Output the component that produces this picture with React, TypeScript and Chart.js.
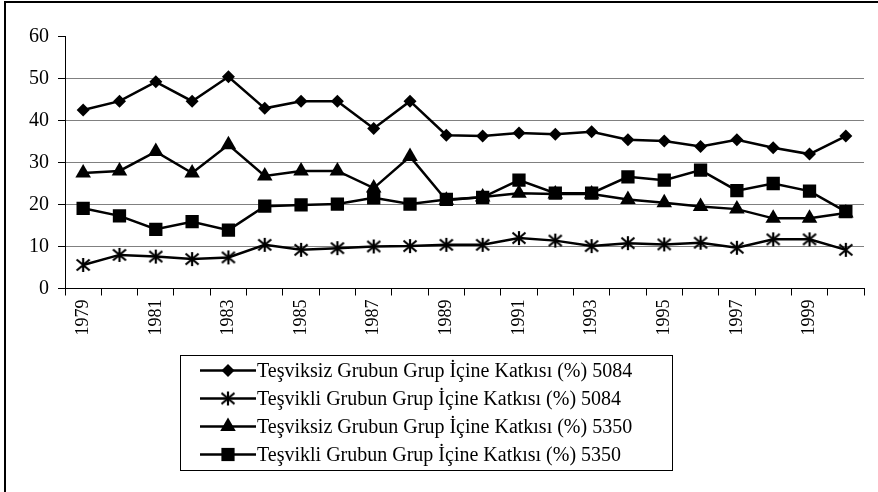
import React, { useEffect, useRef } from 'react';
import { Chart, registerables } from 'chart.js';

Chart.register(...registerables);

const years = ['1979', '1980', '1981', '1982', '1983', '1984', '1985', '1986', '1987', '1988', '1989', '1990', '1991', '1992', '1993', '1994', '1995', '1996', '1997', '1998', '1999', '2000'];

const tesviksiz5084 = [42.5, 44.6, 49.2, 44.6, 50.4, 42.9, 44.6, 44.6, 38.1, 44.6, 36.5, 36.3, 37.0, 36.7, 37.3, 35.4, 35.1, 33.8, 35.4, 33.5, 32.0, 36.3];
const tesvikli5084 = [5.6, 8.0, 7.6, 7.0, 7.4, 10.4, 9.2, 9.6, 10.0, 10.1, 10.4, 10.4, 12.0, 11.4, 10.1, 10.8, 10.5, 10.9, 9.7, 11.7, 11.7, 9.2];
const tesviksiz5350 = [27.5, 28.0, 32.6, 27.5, 34.2, 26.8, 28.0, 28.0, 23.9, 31.4, 21.0, 21.8, 22.7, 22.5, 22.5, 21.2, 20.4, 19.5, 18.9, 16.7, 16.7, 18.0];
const tesvikli5350 = [19.1, 17.3, 14.1, 15.9, 13.9, 19.6, 19.9, 20.1, 21.6, 20.1, 21.2, 21.7, 25.8, 22.7, 22.7, 26.6, 25.8, 28.2, 23.3, 25.0, 23.2, 18.3];

const seriesLabels = [
  'Teşviksiz Grubun Grup İçine Katkısı (%) 5084',
  'Teşvikli Grubun Grup İçine Katkısı (%) 5084',
  'Teşviksiz Grubun Grup İçine Katkısı (%) 5350',
  'Teşvikli Grubun Grup İçine Katkısı (%) 5350',
];

const yMin = 0;
const yMax = 60;
const yStep = 10;

const FONT = "'Liberation Serif', 'Times New Roman', serif";

function makeStar(): HTMLCanvasElement {
  const c = document.createElement('canvas');
  c.width = 16;
  c.height = 16;
  const g = c.getContext('2d')!;
  g.strokeStyle = '#000';
  g.lineWidth = 2.2;
  g.lineCap = 'butt';
  g.beginPath();
  g.moveTo(8, 1);
  g.lineTo(8, 15);
  g.moveTo(1.5, 2.5);
  g.lineTo(14.5, 13.5);
  g.moveTo(14.5, 2.5);
  g.lineTo(1.5, 13.5);
  g.stroke();
  return c;
}

function drawMarker(ctx: CanvasRenderingContext2D, kind: string, x: number, y: number, star: HTMLCanvasElement) {
  ctx.fillStyle = '#000';
  ctx.beginPath();
  if (kind === 'diamond') {
    const r = 6.5;
    ctx.moveTo(x, y - r);
    ctx.lineTo(x + r, y);
    ctx.lineTo(x, y + r);
    ctx.lineTo(x - r, y);
    ctx.closePath();
    ctx.fill();
  } else if (kind === 'star') {
    ctx.drawImage(star, x - star.width / 2, y - star.height / 2);
  } else if (kind === 'triangle') {
    const r = 9;
    ctx.moveTo(x, y - r);
    ctx.lineTo(x + r * Math.sin((2 * Math.PI) / 3), y - r * Math.cos((2 * Math.PI) / 3));
    ctx.lineTo(x + r * Math.sin((4 * Math.PI) / 3), y - r * Math.cos((4 * Math.PI) / 3));
    ctx.closePath();
    ctx.fill();
  } else {
    const s = 6.6;
    ctx.rect(x - s, y - s, 2 * s, 2 * s);
    ctx.fill();
  }
}

export default function App() {
  const ref = useRef<HTMLCanvasElement | null>(null);

  useEffect(() => {
    if (!ref.current) return;
    const star = makeStar();
    const kinds = ['diamond', 'star', 'triangle', 'square'];

    const boxLegend = {
      id: 'boxLegend',
      afterDraw(chart: any) {
        const ctx: CanvasRenderingContext2D = chart.ctx;
        ctx.save();
        ctx.strokeStyle = '#000';
        ctx.lineWidth = 2;
        ctx.beginPath();
        ctx.moveTo(5, 492);
        ctx.lineTo(5, 2);
        ctx.lineTo(878, 2);
        ctx.stroke();

        ctx.lineWidth = 1;
        ctx.strokeRect(180.5, 355.5, 492, 115);

        chart.data.datasets.forEach((ds: any, i: number) => {
          const y = 370.5 + i * 28;
          ctx.strokeStyle = '#000';
          ctx.lineWidth = 2.5;
          ctx.beginPath();
          ctx.moveTo(200, y);
          ctx.lineTo(256, y);
          ctx.stroke();
          drawMarker(ctx, kinds[i], 228, y, star);
          ctx.fillStyle = '#000';
          ctx.font = `20px ${FONT}`;
          ctx.textAlign = 'left';
          ctx.textBaseline = 'middle';
          ctx.fillText(ds.label, 257, y + 1);
        });
        ctx.restore();
      },
    };

    const common = {
      borderColor: '#000',
      backgroundColor: '#000',
      borderWidth: 2.5,
      pointBorderWidth: 0,
      pointBorderColor: '#000',
      pointBackgroundColor: '#000',
      tension: 0,
    };

    const chart = new Chart(ref.current, {
      type: 'line',
      data: {
        labels: years,
        datasets: [
          { ...common, label: seriesLabels[0], data: tesviksiz5084, pointStyle: 'rectRot', pointRadius: 6.5 },
          { ...common, label: seriesLabels[1], data: tesvikli5084, pointStyle: star as any, pointRadius: 7 },
          { ...common, label: seriesLabels[2], data: tesviksiz5350, pointStyle: 'triangle', pointRadius: 9 },
          { ...common, label: seriesLabels[3], data: tesvikli5350, pointStyle: 'rect', pointRadius: 9.4 },
        ],
      },
      options: {
        animation: false,
        responsive: true,
        maintainAspectRatio: false,
        layout: { padding: { left: 0, top: 36.5, right: 14, bottom: 0 } },
        plugins: {
          legend: { display: false },
          tooltip: { enabled: false },
        },
        scales: {
          x: {
            type: 'category',
            offset: true,
            afterFit: (scale: any) => {
              scale.height = 492 - 288.5;
            },
            grid: {
              offset: true,
              drawOnChartArea: false,
              drawTicks: true,
              tickLength: 7,
              tickColor: '#000',
              tickWidth: 1,
            },
            border: { color: '#000', width: 1 },
            ticks: {
              autoSkip: false,
              maxRotation: 90,
              minRotation: 90,
              padding: 4,
              color: '#000',
              font: { family: FONT, size: 18 },
              callback: function (this: any, val: any, index: number) {
                return index % 2 === 0 ? this.getLabelForValue(val) : '';
              },
            },
          },
          y: {
            min: yMin,
            max: yMax,
            afterFit: (scale: any) => {
              scale.width = 65;
            },
            grid: {
              color: (c: any) => (c.tick && (c.tick.value === yMax || c.tick.value === yMin) ? 'rgba(0,0,0,0)' : '#808080'),
              lineWidth: 1,
              drawTicks: true,
              tickLength: 7,
              tickColor: '#000',
              tickWidth: 1,
            },
            border: { color: '#000', width: 1 },
            ticks: {
              stepSize: yStep,
              padding: 9,
              color: '#000',
              font: { family: FONT, size: 20 },
            },
          },
        },
      },
      plugins: [boxLegend],
    } as any);

    return () => chart.destroy();
  }, []);

  return (
    <div style={{ position: 'absolute', left: 0, top: 0, width: 878, height: 492, background: '#fff' }}>
      <canvas ref={ref} />
    </div>
  );
}
